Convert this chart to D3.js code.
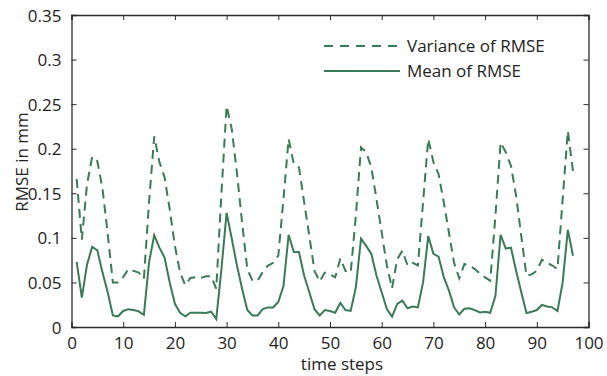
<!DOCTYPE html>
<html>
<head>
<meta charset="utf-8">
<script src="https://cdn.jsdelivr.net/npm/d3@7"></script>
<style>
  body { margin: 0; background: #fff; }
  text { font-family: "Open Sans", sans-serif; fill: #222; }
</style>
</head>
<body>
<div id="chart"></div>
<script>
// time steps 1..97
const steps = d3.range(1, 98);

const meanRmse = [
  0.073, 0.033, 0.070, 0.090, 0.086, 0.061, 0.039, 0.013, 0.012, 0.018,
  0.020, 0.019, 0.0175, 0.0135, 0.0725, 0.103, 0.089, 0.078, 0.050, 0.026,
  0.016, 0.012, 0.016, 0.016, 0.016, 0.0157, 0.0172, 0.009, 0.065, 0.128,
  0.099, 0.069, 0.043, 0.019, 0.013, 0.013, 0.020, 0.022, 0.022, 0.028,
  0.046, 0.1035, 0.084, 0.084, 0.0575, 0.039, 0.020, 0.013, 0.019, 0.018,
  0.016, 0.027, 0.019, 0.018, 0.0445, 0.099, 0.091, 0.082, 0.0575, 0.039,
  0.020, 0.0116, 0.026, 0.0295, 0.021, 0.023, 0.022, 0.050, 0.102, 0.082,
  0.079, 0.056, 0.041, 0.022, 0.014, 0.0205, 0.021, 0.019, 0.0164, 0.0172,
  0.016, 0.035, 0.1035, 0.088, 0.089, 0.063, 0.039, 0.0157, 0.0172, 0.019,
  0.0247, 0.023, 0.022, 0.018, 0.050, 0.109, 0.080
];

const varRmse = [
  0.166, 0.098, 0.160, 0.191, 0.186, 0.155, 0.105, 0.050, 0.050, 0.056,
  0.065, 0.063, 0.061, 0.054, 0.140, 0.214, 0.185, 0.168, 0.132, 0.091,
  0.061, 0.047, 0.055, 0.056, 0.055, 0.057, 0.057, 0.043, 0.150, 0.248,
  0.222, 0.173, 0.117, 0.065, 0.052, 0.052, 0.062, 0.069, 0.072, 0.080,
  0.1435, 0.211, 0.183, 0.179, 0.140, 0.102, 0.063, 0.051, 0.061, 0.059,
  0.0557, 0.077, 0.063, 0.061, 0.125, 0.2015, 0.196, 0.179, 0.143, 0.106,
  0.069, 0.0434, 0.076, 0.0856, 0.069, 0.072, 0.069, 0.140, 0.211, 0.185,
  0.1715, 0.140, 0.106, 0.072, 0.0546, 0.0706, 0.069, 0.065, 0.060, 0.0557,
  0.052, 0.125, 0.207, 0.196, 0.181, 0.147, 0.102, 0.0575, 0.059, 0.063,
  0.0755, 0.072, 0.069, 0.065, 0.1435, 0.220, 0.175
];

const xTicks = [0, 10, 20, 30, 40, 50, 60, 70, 80, 90, 100];
const yTicks = [0, 0.05, 0.1, 0.15, 0.2, 0.25, 0.3, 0.35];
const seriesNames = ['Variance of RMSE', 'Mean of RMSE'];

const W = 607, H = 376;
const margin = {top: 15, right: 18.5, bottom: 49, left: 71.5};
const green = '#3b7a57';
const axisColor = '#2b2b2b';

const svg = d3.select('#chart')
              .append('svg')
              .attr('width', W)
              .attr('height', H);

const x = d3.scaleLinear()
            .domain([0, 100])
            .range([margin.left, W - margin.right]);

const y = d3.scaleLinear()
            .domain([0, 0.35])
            .range([H - margin.bottom, margin.top]);

// lines
const line = d3.line()
               .x((d, i) => x(steps[i]))
               .y(d => y(d));

svg.append('path')
   .datum(varRmse)
   .attr('fill', 'none')
   .attr('stroke', green)
   .attr('stroke-width', 2)
   .attr('stroke-dasharray', '9,6')
   .attr('d', line);

svg.append('path')
   .datum(meanRmse)
   .attr('fill', 'none')
   .attr('stroke', green)
   .attr('stroke-width', 2)
   .attr('d', line);

// axes, ticks inward on all four sides
const fmtY = d => d === 0 ? '0' : String(+d.toFixed(2));

const axBottom = svg.append('g')
   .attr('transform', `translate(0,${y(0)})`)
   .call(d3.axisBottom(x).tickValues(xTicks).tickSize(-5).tickPadding(8).tickFormat(d3.format('d')));

const axLeft = svg.append('g')
   .attr('transform', `translate(${x(0)},0)`)
   .call(d3.axisLeft(y).tickValues(yTicks).tickSize(-5).tickPadding(10).tickFormat(fmtY));

const axTop = svg.append('g')
   .attr('transform', `translate(0,${y(0.35)})`)
   .call(d3.axisTop(x).tickValues(xTicks).tickSize(-5).tickFormat(''));

const axRight = svg.append('g')
   .attr('transform', `translate(${x(100)},0)`)
   .call(d3.axisRight(y).tickValues(yTicks).tickSize(-5).tickFormat(''));

[axBottom, axLeft, axTop, axRight].forEach(g => {
  g.select('.domain').attr('stroke', axisColor).attr('stroke-width', 1.3);
  g.selectAll('.tick line').attr('stroke', axisColor).attr('stroke-width', 1);
  g.selectAll('.tick text')
   .attr('font-family', '"Open Sans", sans-serif')
   .attr('font-size', '17px')
   .attr('fill', '#222');
});
axLeft.selectAll('.tick text').attr('dy', '0.36em');
axBottom.selectAll('.tick text').attr('dy', '0.8em');

// axis titles
svg.append('text')
   .attr('x', 342)
   .attr('y', 370)
   .attr('text-anchor', 'middle')
   .attr('font-size', '17px')
   .text('time steps');

svg.append('text')
   .attr('transform', `translate(28,162) rotate(-90)`)
   .attr('text-anchor', 'middle')
   .attr('font-size', '17px')
   .text('RMSE in mm');

// legend
const legend = svg.append('g');
const legendY = [46, 71];
seriesNames.forEach((name, i) => {
  legend.append('line')
        .attr('x1', 324).attr('x2', 400)
        .attr('y1', legendY[i]).attr('y2', legendY[i])
        .attr('stroke', green)
        .attr('stroke-width', 2)
        .attr('stroke-dasharray', i === 0 ? '9,7' : null);
  legend.append('text')
        .attr('x', 407)
        .attr('y', legendY[i] + 6)
        .attr('font-size', '17px')
        .text(name);
});
</script>
</body>
</html>
